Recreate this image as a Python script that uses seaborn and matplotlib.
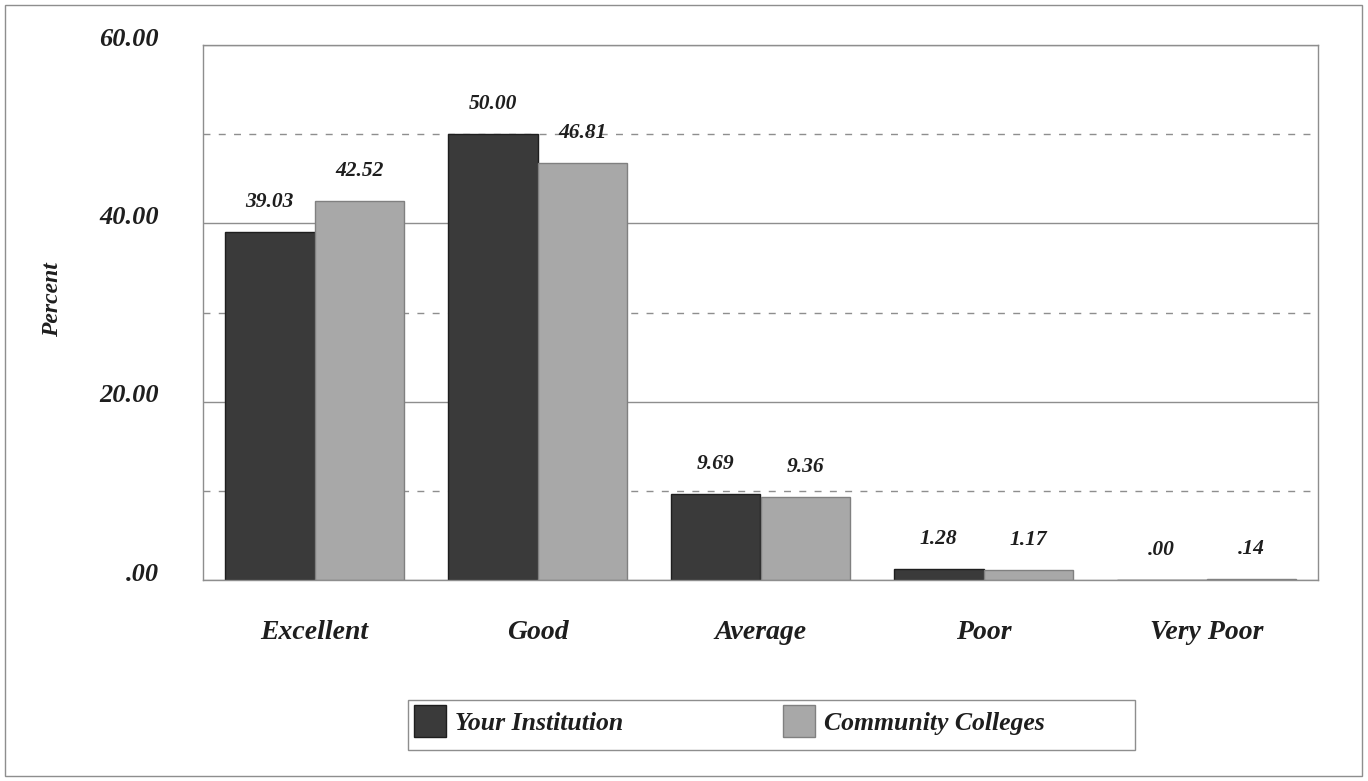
import numpy as np
import pandas as pd
import matplotlib
matplotlib.use("Agg")
import matplotlib.pyplot as plt
import matplotlib.transforms as mtransforms
from matplotlib.patches import Rectangle, Patch
from matplotlib.ticker import FuncFormatter
import seaborn as sns

# ---------------- data ----------------
categories = ["Excellent", "Good", "Average", "Poor", "Very Poor"]
series_names = ["Your Institution", "Community Colleges"]
your_institution = [39.03, 50.00, 9.69, 1.28, 0.00]
community_colleges = [42.52, 46.81, 9.36, 1.17, 0.14]
y_major_ticks = [0, 20, 40, 60]
y_minor_ticks = [10, 30, 50]

# ---------------- style ----------------
sns.set_style("white")
plt.rcParams["font.family"] = ["Liberation Serif", "DejaVu Serif"]
plt.rcParams["font.weight"] = "bold"
plt.rcParams["font.style"] = "italic"

DARK = "#3a3a3a"
LIGHT = "#a8a8a8"
EDGE_DARK = "#1e1e1e"
EDGE_LIGHT = "#808080"
GRID = "#8e8e8e"
TXT = "#1e1e1e"

W, H = 1368, 781
fig = plt.figure(figsize=(W / 100, H / 100), dpi=100)
ax = fig.add_axes([203 / W, 1 - 580 / H, (1318 - 203) / W, (580 - 45) / H])

df = pd.DataFrame({
    "Category": categories * 2,
    "Series": [series_names[0]] * len(categories) + [series_names[1]] * len(categories),
    "Percent": your_institution + community_colleges,
})

sns.barplot(data=df, x="Category", y="Percent", hue="Series",
            order=categories, hue_order=series_names,
            palette=[DARK, LIGHT], saturation=1, width=0.807,
            errorbar=None, legend=False, linewidth=1, ax=ax)

for cont, ec in zip(ax.containers, [EDGE_DARK, EDGE_LIGHT]):
    for p in cont:
        p.set_edgecolor(ec)

# value labels
def fmt(v):
    s = f"{v:.2f}"
    if s.startswith("0."):
        s = s[1:]
    return s

for cont, vals in zip(ax.containers, [your_institution, community_colleges]):
    for p, v in zip(cont, vals):
        ax.annotate(fmt(v), (p.get_x() + p.get_width() / 2, p.get_height()),
                    xytext=(0, 21.5), textcoords="offset points",
                    ha="center", va="center", fontsize=15.5, color=TXT,
                    fontweight="bold", fontstyle="italic")

# axes limits / ticks
ax.set_xlim(-0.5, len(categories) - 0.5)
ax.set_ylim(0, 60)
ax.set_xticks(range(len(categories)))
ax.set_xticklabels(categories)
ax.set_xticks(np.arange(-0.5, len(categories), 1.0), minor=True)
ax.set_yticks(y_major_ticks)
ax.set_yticks(y_minor_ticks, minor=True)
ax.yaxis.set_major_formatter(FuncFormatter(lambda v, p: fmt(v)))

ax.tick_params(axis="x", which="major", length=5, width=1, color=GRID,
               pad=24, labelsize=20, labelcolor=TXT, direction="out")
ax.tick_params(axis="x", which="minor", length=9, width=1, color=GRID,
               direction="out")
ax.tick_params(axis="y", which="major", length=15, width=1, color=GRID,
               pad=17, labelsize=19, labelcolor=TXT, direction="out")
ax.tick_params(axis="y", which="minor", length=15, width=1, color=GRID,
               direction="inout")

# shift y tick labels slightly up (as in reference)
offset = mtransforms.ScaledTranslation(0, 6 / 72, fig.dpi_scale_trans)
for lab in ax.get_yticklabels():
    lab.set_transform(lab.get_transform() + offset)

ax.grid(which="major", axis="y", color=GRID, lw=1, ls="-")
ax.grid(which="minor", axis="y", color=GRID, lw=1, ls=(0, (5, 6)))
ax.grid(which="both", axis="x", visible=False)
ax.set_axisbelow(True)

for s in ax.spines.values():
    s.set_visible(True)
    s.set_color(GRID)
    s.set_linewidth(1)
ax.spines["right"].set_linestyle((0, (2, 1)))

ax.set_xlabel("")
ax.set_ylabel("Percent", fontsize=17, color=TXT, fontweight="bold", fontstyle="italic")
ax.yaxis.set_label_coords((63 - 203) / (1318 - 203), (580 - 300) / (580 - 45))

# legend
handles = [Patch(facecolor=DARK, edgecolor=EDGE_DARK),
           Patch(facecolor=LIGHT, edgecolor=EDGE_LIGHT)]
fig.legend(handles, series_names, loc="upper left",
           bbox_to_anchor=(414 / W, 1 - 705 / H), ncol=2, frameon=False,
           prop={"family": ["Liberation Serif"], "weight": "bold", "style": "italic", "size": 18.5},
           handlelength=1.25, handleheight=1.56, handletextpad=0.35,
           columnspacing=6.2, borderpad=0, borderaxespad=0, labelcolor=TXT)
fig.add_artist(Rectangle((408 / W, 1 - 750 / H), (1135 - 408) / W, 50 / H,
                         transform=fig.transFigure, fill=False,
                         edgecolor=GRID, lw=1))
# outer border
fig.add_artist(Rectangle((5 / W, 1 - 776 / H), (1362 - 5) / W, (776 - 5) / H,
                         transform=fig.transFigure, fill=False,
                         edgecolor=GRID, lw=1))

fig.savefig("out.png", dpi=100)
